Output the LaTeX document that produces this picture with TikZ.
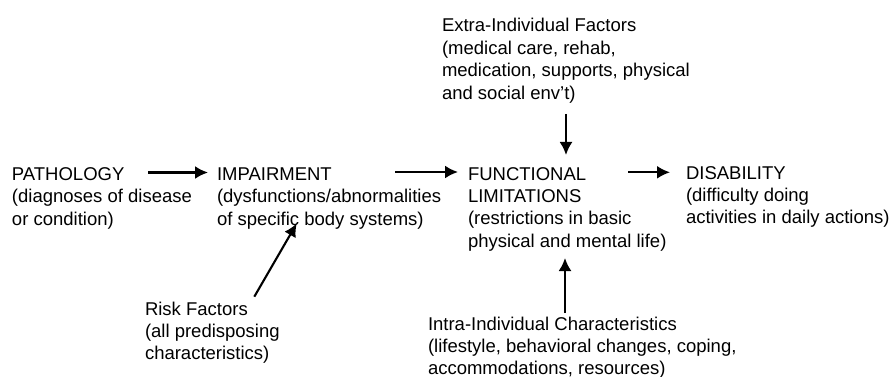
\documentclass[tikz,border=0pt]{standalone}
\usepackage{fontspec}
\setmainfont{Liberation Sans}
\usetikzlibrary{arrows.meta}
\tikzset{
  lbl/.style={anchor=base west, inner sep=0pt, outer sep=0pt,
    font=\fontsize{18.5}{22.4}\selectfont, text=black},
  arr/.style={line width=2.1pt, draw=black, -{Latex[length=13pt,width=13pt]}}
}
\newcommand{\blk}[1]{\begin{tabular}[t]{@{}l@{}}#1\end{tabular}}
\begin{document}
\begin{tikzpicture}[x=1pt,y=-1pt]
\useasboundingbox (0,0) rectangle (894,377);
\node[lbl] (path) at (12,180.5) {\blk{PATHOLOGY\\(diagnoses of disease\\or condition)}};
\node[lbl] (imp) at (217,180.5) {\blk{IMPAIRMENT\\(dysfunctions/abnormalities\\of specific body systems)}};
\node[lbl] (func) at (468,180) {\blk{FUNCTIONAL\\LIMITATIONS\\(restrictions in basic\\physical and mental life)}};
\node[lbl] (dis) at (686,179) {\blk{DISABILITY\\(difficulty doing\\activities in daily actions)}};
\node[lbl] (extra) at (442,32) {\blk{Extra-Individual Factors\\(medical care, rehab,\\medication, supports, physical\\and social env't)}};
\node[lbl] (risk) at (145,315) {\blk{Risk Factors\\(all predisposing\\characteristics)}};
\node[lbl] (intra) at (428,330) {\blk{Intra-Individual Characteristics\\(lifestyle, behavioral changes, coping,\\accommodations, resources)}};
\coordinate (a1s) at (148,172.5);
\coordinate (a1e) at (208,172.5);
\coordinate (a2s) at (395,172);
\coordinate (a2e) at (458,172);
\coordinate (a3s) at (628,172.3);
\coordinate (a3e) at (670,172.3);
\coordinate (a4s) at (566,114);
\coordinate (a4e) at (566,155);
\coordinate (a5s) at (565,313);
\coordinate (a5e) at (565,258);
\coordinate (a6s) at (254.3,296.7);
\coordinate (a6e) at (296.7,223.5);
\draw[arr] (a1s) -- (a1e);
\draw[arr] (a2s) -- (a2e);
\draw[arr] (a3s) -- (a3e);
\draw[arr] (a4s) -- (a4e);
\draw[arr] (a5s) -- (a5e);
\draw[arr] (a6s) -- (a6e);
\end{tikzpicture}
\end{document}
